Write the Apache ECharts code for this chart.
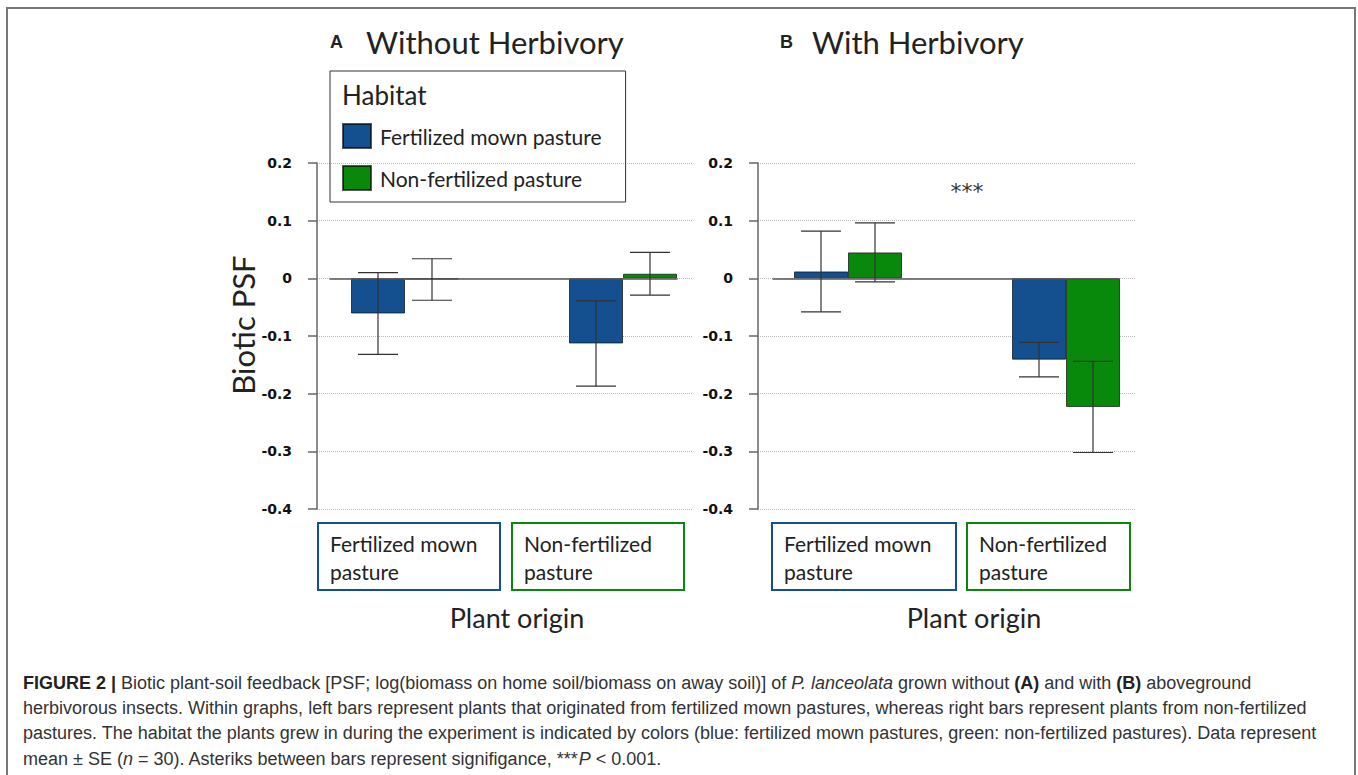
<!DOCTYPE html>
<html>
<head>
<meta charset="utf-8">
<style>
  html, body { margin: 0; padding: 0; background: #fff; }
  #chart { width: 1358px; height: 775px; }
</style>
<script src="https://cdn.jsdelivr.net/npm/echarts@6/dist/echarts.min.js"></script>
</head>
<body>
<div id="chart"></div>
<script>
// plant origin (x categories) and habitat (series)
const origins = ['Fertilized mown pasture', 'Non-fertilized pasture'];
const originLines = [['Fertilized mown', 'pasture'], ['Non-fertilized', 'pasture']];
const habitats = ['Fertilized mown pasture', 'Non-fertilized pasture'];

// A: without herbivory, mean and SE per plant origin
const fertMeanA = [-0.061, -0.113];
const fertSeA = [0.071, 0.074];
const nonFertMeanA = [-0.002, 0.008];
const nonFertSeA = [0.036, 0.037];

// B: with herbivory
const fertMeanB = [0.012, -0.141];
const fertSeB = [0.070, 0.030];
const nonFertMeanB = [0.045, -0.223];
const nonFertSeB = [0.051, 0.079];

const yMin = -0.4, yMax = 0.2, yStep = 0.1;

const BLUE = '#14508f';
const GREEN = '#08890c';
const LAT = 'Lato, "Open Sans", sans-serif';

// per-panel layout
const panels = [
  { frameLeft: 317, frameW: 376, barLeft: 296, zeroLeft: 330, zeroW: 347, labLeft: 314.5, labW: 378, boxW: [182, 172],
    fert: fertMeanA, fertSe: fertSeA, non: nonFertMeanA, nonSe: nonFertSeA },
  { frameLeft: 758, frameW: 377, barLeft: 739, zeroLeft: 773, zeroW: 346, labLeft: 771.75, labW: 369, boxW: [184, 163],
    fert: fertMeanB, fertSe: fertSeB, non: nonFertMeanB, nonSe: nonFertSeB }
];

const TOP = 163, H = 346;
const grid = [], xAxis = [], yAxis = [], series = [];

function errData(mean, se) {
  return mean.map((m, i) => [i, m - se[i], m + se[i]]);
}

function errRender(side) {
  return function (params, api) {
    const ci = api.value(0);
    const hi = api.coord([ci, api.value(2)]);
    const lo = api.coord([ci, api.value(1)]);
    const barW = 54;
    const x = hi[0] + side * barW / 2;
    const cap = 20;
    const st = { stroke: '#333', lineWidth: 1.2 };
    return {
      type: 'group',
      children: [
        { type: 'line', shape: { x1: x, y1: hi[1], x2: x, y2: lo[1] }, style: st },
        { type: 'line', shape: { x1: x - cap, y1: hi[1], x2: x + cap, y2: hi[1] }, style: st },
        { type: 'line', shape: { x1: x - cap, y1: lo[1], x2: x + cap, y2: lo[1] }, style: st }
      ]
    };
  };
}

panels.forEach((p, k) => {
  const g0 = grid.length;
  // frame grid: y axis, ticks, dotted gridlines
  grid.push({ left: p.frameLeft, top: TOP, width: p.frameW, height: H });
  xAxis.push({ gridIndex: g0, type: 'category', data: origins, show: false });
  yAxis.push({
    gridIndex: g0, type: 'value', min: yMin, max: yMax, interval: yStep,
    axisLine: { show: true, lineStyle: { color: '#666', width: 1.5 } },
    axisTick: { show: true, length: 9, lineStyle: { color: '#666', width: 1.5 } },
    axisLabel: {
      margin: 25, color: '#111', fontFamily: 'DejaVu Sans', fontWeight: 'bold', fontSize: 14,
      formatter: v => Math.abs(v) < 1e-9 ? '0' : v.toFixed(1)
    },
    splitLine: { show: true, lineStyle: { color: '#bbb', type: 'dotted', width: 1 } }
  });

  // bar grid
  grid.push({ left: p.barLeft, top: TOP, width: 436, height: H });
  xAxis.push({ gridIndex: g0 + 1, type: 'category', data: origins, show: false });
  yAxis.push({ gridIndex: g0 + 1, type: 'value', min: yMin, max: yMax, interval: yStep, show: false });

  // zero line grid
  grid.push({ left: p.zeroLeft, top: TOP, width: p.zeroW, height: H });
  xAxis.push({
    gridIndex: g0 + 2, type: 'category', data: origins,
    axisLine: { show: true, onZero: true, lineStyle: { color: '#555', width: 1.5 } },
    axisTick: { show: false }, axisLabel: { show: false }, z: 5
  });
  yAxis.push({ gridIndex: g0 + 2, type: 'value', min: yMin, max: yMax, interval: yStep, show: false });

  // plant-origin boxes grid
  const tok = { align: 'left', fontFamily: LAT, fontSize: 21, color: '#222', lineHeight: 28 };
  grid.push({ left: p.labLeft, top: TOP, width: p.labW, height: H });
  xAxis.push({
    gridIndex: g0 + 3, type: 'category',
    data: origins.map((t, i) => ({
      value: t,
      textStyle: { borderColor: i === 0 ? BLUE : GREEN, borderWidth: 2, padding: [6, 0, 5, 12] }
    })),
    axisLine: { show: false, onZero: false }, axisTick: { show: false },
    axisLabel: {
      interval: 0, margin: 14, fontFamily: LAT, fontSize: 21, color: '#222', lineHeight: 28,
      formatter: (v, i) => originLines[i].map(s => '{w' + i + '|' + s + '}').join('\n'),
      rich: {
        w0: Object.assign({ width: p.boxW[0] - 12 }, tok),
        w1: Object.assign({ width: p.boxW[1] - 12 }, tok)
      }
    }
  });
  yAxis.push({ gridIndex: g0 + 3, type: 'value', min: yMin, max: yMax, interval: yStep, show: false });

  const bi = g0 + 1;
  series.push(
    {
      name: habitats[0], type: 'bar', xAxisIndex: bi, yAxisIndex: bi,
      data: p.fert, barWidth: 54, barGap: '0%',
      itemStyle: { color: BLUE, borderColor: 'rgba(0,0,0,0.65)', borderWidth: 1 }
    },
    {
      name: habitats[1], type: 'bar', xAxisIndex: bi, yAxisIndex: bi,
      data: p.non, barWidth: 54, barGap: '0%',
      itemStyle: { color: GREEN, borderColor: 'rgba(0,0,0,0.65)', borderWidth: 1 }
    },
    {
      type: 'custom', xAxisIndex: bi, yAxisIndex: bi, z: 10,
      data: errData(p.fert, p.fertSe), renderItem: errRender(-1)
    },
    {
      type: 'custom', xAxisIndex: bi, yAxisIndex: bi, z: 10,
      data: errData(p.non, p.nonSe), renderItem: errRender(1)
    }
  );
});

const CAP = 18;
const rich = {
  b: { fontWeight: 'bold', fontSize: CAP, fontFamily: 'Liberation Sans', color: '#222' },
  i: { fontStyle: 'italic', fontSize: CAP, fontFamily: 'Liberation Sans', color: '#333' }
};
const captionText = [
  '{b|FIGURE 2 |} Biotic plant-soil feedback [PSF; log(biomass on home soil/biomass on away soil)] of {i|P. lanceolata} grown without {b|(A)} and with {b|(B)} aboveground',
  'herbivorous insects. Within graphs, left bars represent plants that originated from fertilized mown pastures, whereas right bars represent plants from non-fertilized',
  'pastures. The habitat the plants grew in during the experiment is indicated by colors (blue: fertilized mown pastures, green: non-fertilized pastures). Data represent',
  'mean \u00b1 SE ({i|n} = 30). Asteriks between bars represent signifigance, ***{i|P} < 0.001.'
].join('\n');

const option = {
  backgroundColor: '#fff',
  animation: false,
  title: [{
    text: captionText, left: 18, top: 665,
    textStyle: { fontFamily: 'Liberation Sans', fontSize: CAP, fontWeight: 'normal', color: '#333', lineHeight: 25.3, rich: rich }
  }],
  legend: {
    data: habitats, orient: 'vertical', left: 330, top: 71,
    itemWidth: 28, itemHeight: 24, itemGap: 16, icon: 'rect',
    padding: [52, 24, 11, 12],
    borderColor: '#333', borderWidth: 1,
    textStyle: { fontFamily: LAT, fontSize: 21, color: '#222', lineHeight: 24, padding: [0, 0, 0, 4] }
  },
  grid, xAxis, yAxis, series,
  graphic: [
    { type: 'rect', shape: { x: 7, y: 8, width: 1348, height: 800 }, style: { fill: 'none', stroke: '#777', lineWidth: 2 }, silent: true },
    { type: 'text', x: 330, y: 42, style: { text: 'A', font: 'bold 18px "Liberation Sans"', fill: '#222', verticalAlign: 'middle' } },
    { type: 'text', x: 366, y: 42, style: { text: 'Without Herbivory', font: '31px ' + LAT, fill: '#222', verticalAlign: 'middle' } },
    { type: 'text', x: 780, y: 42, style: { text: 'B', font: 'bold 18px "Liberation Sans"', fill: '#222', verticalAlign: 'middle' } },
    { type: 'text', x: 812, y: 42, style: { text: 'With Herbivory', font: '31px ' + LAT, fill: '#222', verticalAlign: 'middle' } },
    { type: 'text', x: 342, y: 95, style: { text: 'Habitat', font: '26px ' + LAT, fill: '#222', verticalAlign: 'middle' } },
    { type: 'text', x: 243, y: 325, rotation: Math.PI / 2, style: { text: 'Biotic PSF', font: '31px ' + LAT, fill: '#222', align: 'center', verticalAlign: 'middle' } },
    { type: 'text', x: 517, y: 617, style: { text: 'Plant origin', font: '27px ' + LAT, fill: '#222', align: 'center', verticalAlign: 'middle' } },
    { type: 'text', x: 974, y: 617, style: { text: 'Plant origin', font: '27px ' + LAT, fill: '#222', align: 'center', verticalAlign: 'middle' } },
    { type: 'text', x: 967, y: 191, style: { text: '***', font: '22px "DejaVu Sans"', fill: '#333', align: 'center', verticalAlign: 'middle' } }
  ]
};

const chart = echarts.init(document.getElementById('chart'), null, { renderer: 'svg' });
chart.setOption(option);
window.addEventListener('resize', () => chart.resize());
</script>
</body>
</html>
